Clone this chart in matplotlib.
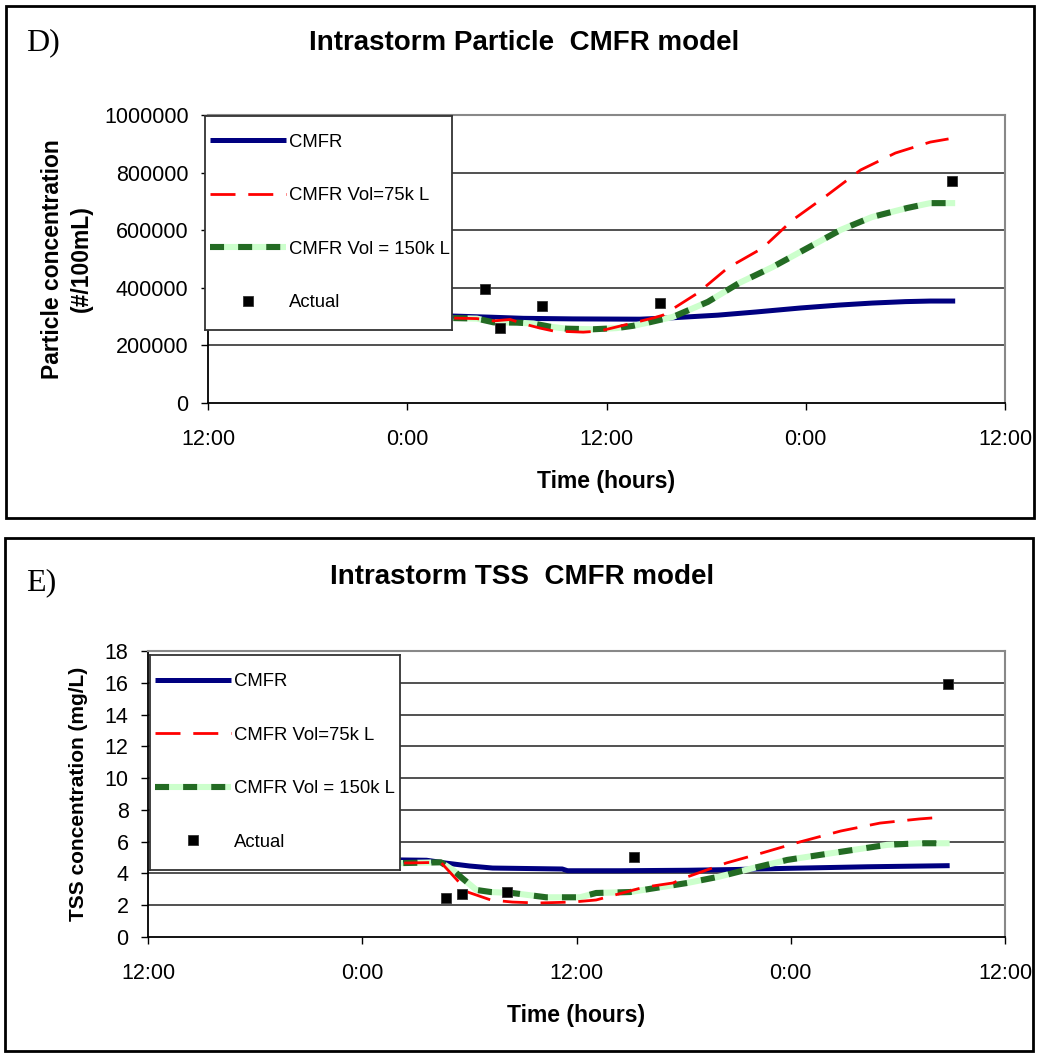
import matplotlib
matplotlib.use("Agg")
import matplotlib.pyplot as plt
from matplotlib.patches import Rectangle

plt.rcParams['font.family'] = ['Liberation Sans', 'DejaVu Sans']

# ---------------- data ----------------
# time in hours after the first 12:00 tick
tick_hours = [0, 12, 24, 36, 48]
tick_labels = ['12:00', '0:00', '12:00', '0:00', '12:00']

# Panel D: particle concentration (#/100mL)
d_cmfr_t = [8, 14.7, 17, 19, 22, 26, 28, 30.7, 33, 35.7, 38, 40, 42, 43.5, 45.0]
d_cmfr_v = [305000, 302000, 298000, 294000, 292000, 291000, 296000, 305000,
            316000, 330000, 340000, 347000, 352000, 354000, 354000]

d_75k_t = [8, 14.7, 16.2, 17.2, 18.2, 19.0, 20.0, 20.8, 22.6, 23.6, 25.6, 26.8,
           27.4, 29.5, 31.3, 33.4, 35.2, 37.3, 39.3, 41.4, 43.5, 44.6]
d_75k_v = [300000, 295000, 293000, 285000, 290000, 275000, 260000, 250000, 246000,
           250000, 278000, 295000, 305000, 382000, 469000, 538000, 635000, 722000,
           809000, 868000, 906000, 917000]

d_150k_t = [8, 14.7, 16.2, 17.2, 18.6, 19.6, 20.6, 21.6, 23.2, 24.6, 25.6, 26.5,
            28.0, 30.1, 32.0, 34.0, 36.1, 38.1, 40.0, 42.1, 43.5, 45.0]
d_150k_v = [300000, 295000, 293000, 280000, 279000, 276000, 265000, 258000, 256000,
            260000, 268000, 279000, 299000, 351000, 417000, 472000, 538000, 601000,
            646000, 677000, 694000, 694000]

actual_t = [16.7, 17.6, 20.1, 27.2, 44.8]
d_actual_v = [396000, 260000, 337000, 347000, 770000]

# Panel E: TSS concentration (mg/L)
e_cmfr_t = [8, 14.1, 15.6, 16.7, 18.0, 19.3, 23.2, 23.5, 26.4, 30.2, 33.0, 35.8, 40.3, 44.9]
e_cmfr_v = [4.85, 4.85, 4.83, 4.65, 4.47, 4.34, 4.28, 4.17, 4.17, 4.2, 4.25, 4.32, 4.42, 4.49]

e_75k_t = [8, 14.1, 16.4, 17.3, 17.9, 19.2, 20.4, 21.8, 23.8, 25.1, 27.6, 27.9, 29.4,
           30.2, 32.4, 34.4, 36.5, 38.8, 41.0, 43.2, 44.6]
e_75k_v = [4.8, 4.65, 4.7, 3.6, 2.83, 2.33, 2.2, 2.14, 2.2, 2.33, 3.08, 3.15, 3.4,
           3.78, 4.66, 5.29, 5.98, 6.67, 7.17, 7.43, 7.55]

e_150k_t = [8, 14.1, 16.4, 17.1, 17.6, 18.4, 19.2, 20.4, 22.3, 24.2, 25.1, 27.0, 28.8,
            30.2, 32.0, 33.9, 35.8, 37.6, 39.5, 41.4, 43.2, 44.9]
e_150k_v = [4.8, 4.65, 4.7, 4.2, 3.7, 2.96, 2.83, 2.77, 2.5, 2.5, 2.77, 2.83, 3.15,
            3.4, 3.8, 4.34, 4.85, 5.16, 5.48, 5.8, 5.9, 5.9]

e_actual_v = [2.45, 2.7, 2.83, 5.03, 15.9]

series_labels = ['CMFR', 'CMFR Vol=75k L', 'CMFR Vol = 150k L', 'Actual']

# ---------------- figure ----------------
W, H = 1037, 1055
fig = plt.figure(figsize=(W / 100, H / 100), dpi=100)


def fx(px):
    return px / W


def fy(py):
    return 1 - py / H


# outer boxes
fig.add_artist(Rectangle((fx(6), fy(518)), fx(1034) - fx(6), fy(6) - fy(518),
                         transform=fig.transFigure, fill=False, lw=2, ec='black'))
fig.add_artist(Rectangle((fx(5), fy(1051)), fx(1033) - fx(5), fy(538) - fy(1051),
                         transform=fig.transFigure, fill=False, lw=2, ec='black'))


def make_axes(l, t, r, b):
    return fig.add_axes([fx(l), fy(b), fx(r) - fx(l), fy(t) - fy(b)])


def style_axes(ax, ymax, ystep, ylabels):
    ax.set_xlim(0, 48)
    ax.set_ylim(0, ymax)
    ax.set_xticks(tick_hours)
    ax.set_xticklabels(tick_labels)
    yt = [i * ystep for i in range(len(ylabels))]
    ax.set_yticks(yt)
    ax.set_yticklabels(ylabels)
    for v in yt[1:-1]:
        ax.axhline(v, color='#222222', lw=1.1, zorder=1)
    ax.spines['left'].set_color('black')
    ax.spines['bottom'].set_color('black')
    ax.spines['left'].set_linewidth(1.3)
    ax.spines['bottom'].set_linewidth(1.3)
    ax.spines['top'].set_color('#888888')
    ax.spines['right'].set_color('#888888')
    ax.spines['top'].set_linewidth(1.5)
    ax.spines['right'].set_linewidth(1.5)
    ax.tick_params(axis='x', direction='out', length=5, width=1, pad=14, labelsize=15.5)
    ax.tick_params(axis='y', direction='out', length=5, width=1, pad=9, labelsize=15.5)


def draw_series(ax, ct, cv, rt, rv, gt, gv, av):
    l1, = ax.plot(ct, cv, color='#000080', lw=3.6, solid_capstyle='butt', zorder=3)
    l3, = ax.plot(gt, gv, color='#236B23', lw=4.4, linestyle=(0, (2.3, 2.3)),
                  gapcolor='#CCFFCC', dash_capstyle='butt', zorder=4)
    l2, = ax.plot(rt, rv, color='#FF0000', lw=2.0, linestyle=(0, (9, 4.6)),
                  dash_capstyle='butt', zorder=5)
    l4, = ax.plot(actual_t, av, linestyle='none', marker='s', ms=7.5,
                  mfc='black', mec='#333333', mew=0.6, zorder=6)
    return [l1, l2, l3, l4]


def add_legend(handles, box_l, box_t, box_r, box_b, handle_x, mid_y):
    # legend panel (white box with frame) drawn above the plot
    lax = make_axes(box_l, box_t, box_r, box_b)
    lax.set_xticks([])
    lax.set_yticks([])
    lax.set_facecolor('white')
    for s in lax.spines.values():
        s.set_color('#333333')
        s.set_linewidth(1.3)
    fs = 13.3
    fpx = fs * 100 / 72
    leg = lax.legend(handles, series_labels, loc='center left',
                     bbox_to_anchor=(fx(handle_x), fy(mid_y)),
                     bbox_transform=fig.transFigure,
                     fontsize=fs, frameon=False, handlelength=76 / fpx,
                     handletextpad=3 / fpx, labelspacing=(54 - 17.4) / fpx,
                     borderpad=0, borderaxespad=0, numpoints=1)
    return leg


# ---------------- panel D ----------------
axD = make_axes(208, 115, 1005, 403)
style_axes(axD, 1000000, 200000, ['0', '200000', '400000', '600000', '800000', '1000000'])
hD = draw_series(axD, d_cmfr_t, d_cmfr_v, d_75k_t, d_75k_v, d_150k_t, d_150k_v, d_actual_v)
axD.set_ylabel('Particle concentration\n(#/100mL)', fontsize=16.5, fontweight='bold',
               labelpad=8, linespacing=1.35)
axD.set_xlabel('Time (hours)', fontsize=16.5, fontweight='bold', labelpad=14)

fig.text(fx(26), fy(43), 'D)', fontsize=23, family=['Liberation Serif', 'DejaVu Serif'],
         ha='left', va='center')
fig.text(fx(524), fy(43), 'Intrastorm Particle  CMFR model', fontsize=20,
         fontweight='bold', ha='center', va='center')

# ---------------- panel E ----------------
axE = make_axes(148, 651, 1005, 937)
style_axes(axE, 18, 2, [str(v) for v in range(0, 20, 2)])
hE = draw_series(axE, e_cmfr_t, e_cmfr_v, e_75k_t, e_75k_v, e_150k_t, e_150k_v, e_actual_v)
axE.set_ylabel('TSS concentration (mg/L)', fontsize=15, fontweight='bold', labelpad=12)
axE.set_xlabel('Time (hours)', fontsize=16.5, fontweight='bold', labelpad=14)

fig.text(fx(26), fy(583), 'E)', fontsize=23, family=['Liberation Serif', 'DejaVu Serif'],
         ha='left', va='center')
fig.text(fx(522), fy(577), 'Intrastorm TSS  CMFR model', fontsize=20,
         fontweight='bold', ha='center', va='center')

# legends (drawn last, on top)
add_legend(hD, 205, 116, 452, 330, 210, 222.5)
add_legend(hE, 150, 655, 400, 870, 155, 762)

fig.savefig('out.png', dpi=100)
